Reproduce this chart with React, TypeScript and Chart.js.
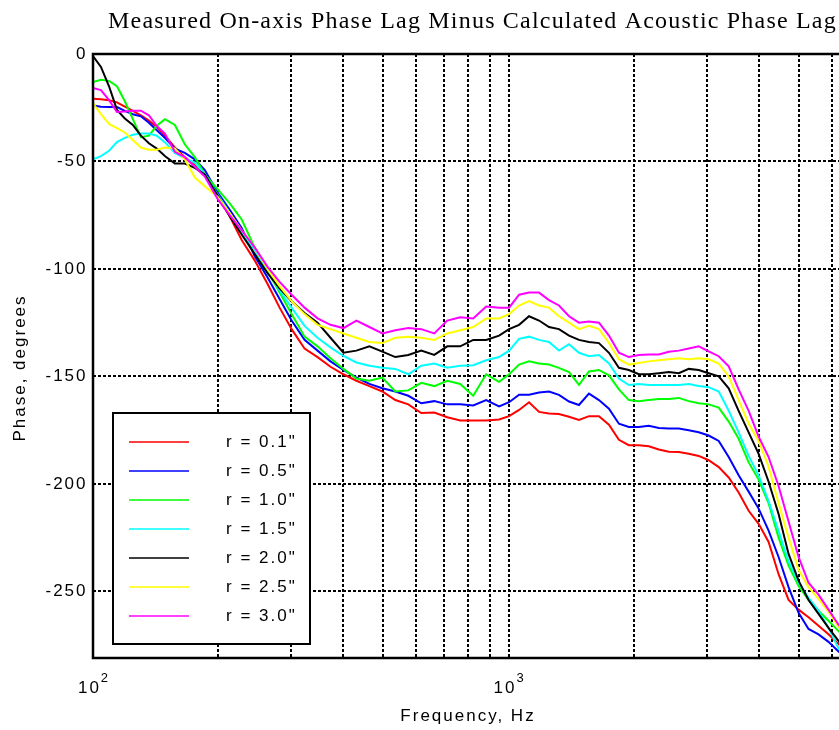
import React, { useEffect, useRef } from "react";
import { Chart, registerables } from "chart.js";

Chart.register(...registerables);

// Frequencies (Hz) shared by all curves
const freqs = [
  100, 104.5, 109.3, 114.2, 119.3, 124.7, 130.4, 136.3, 142.4, 148.9,
  157.4, 166.3, 175.8, 185.8, 199.6, 213.3, 227.9, 244.9, 263.1, 281.2,
  300.6, 322.9, 347.0, 372.8, 400.5, 430.4, 462.5, 496.9, 533.9, 573.8,
  616.5, 662.5, 712.0, 765.0, 822.1, 883.3, 948.8, 1003, 1060, 1120,
  1184, 1251, 1322, 1398, 1477, 1561, 1650, 1744, 1843, 1947,
  2058, 2175, 2299, 2430, 2568, 2714, 2868, 3031, 3204, 3386,
  3578, 3782, 3997, 4224, 4464, 4718, 4987, 5270, 5570, 5887,
  6222, 6497,
];

const r01 = [
  -20.8, -21, -21.5, -22.5, -24.5, -26.5, -28.5, -31, -34, -38,
  -43.5, -48, -51.5, -56, -66.5, -75.5, -86.5, -96, -107, -118,
  -128, -137, -141, -145.5, -149, -152, -154.5, -157, -161, -163,
  -167, -166.8, -169, -170.5, -170.5, -170.5, -170, -168.5, -165.6, -162,
  -166.5, -167.2, -167.5, -168.8, -170.3, -168.5, -168.5, -172.5, -179.5, -182,
  -182, -182.5, -184, -185, -185.2, -186, -187, -189, -192.2, -197,
  -204, -212.5, -218.6, -227, -242, -254, -258.5, -262, -266, -270,
  -274.5, -278,
];

const r05 = [
  -24, -24.5, -24.7, -24.7, -26.5, -28, -29, -32, -35.5, -39,
  -44, -46, -49, -54, -64.5, -72.5, -81, -94, -104, -114,
  -124, -133, -138, -143, -147, -150.5, -153.5, -155.5, -157, -159,
  -162.5, -161.5, -163, -163, -163.5, -161, -164, -162, -158.5, -158.5,
  -157.5, -157, -158.6, -161.7, -163.3, -158, -161, -165, -172, -173.5,
  -173.5, -173, -174, -174.2, -174.2, -175, -176, -177.5, -180, -187.5,
  -196, -203.6, -211.5, -221.7, -234, -248, -260, -267.5, -270, -273.5,
  -278, -281,
];

const r10 = [
  -13, -12, -12.5, -15, -22, -30.3, -38.7, -38, -33.4, -30.3,
  -33, -42, -48, -56, -63, -69.5, -77, -90, -101, -111,
  -121, -131.5, -136, -141.5, -146.5, -151, -152, -150.5, -157, -156.5,
  -153, -154.5, -152, -153.5, -159, -149, -152.5, -149, -144.5, -143,
  -144, -144.5, -146, -148, -153.9, -147.7, -147, -149.5, -156, -161,
  -161.5, -161, -160.5, -160.5, -160, -161.5, -162.5, -163, -164.5, -171,
  -179, -190, -198, -209, -225, -238, -247.5, -254, -259, -263.7,
  -268.5, -272,
];

const r15 = [
  -49, -47.5, -45, -41, -39, -37.6, -37, -37, -38, -41,
  -46, -48.5, -50.5, -56, -65.5, -74, -83, -91, -101, -110,
  -118, -126.5, -132, -136.5, -140.5, -143.5, -145, -146, -146.5, -149,
  -145, -144, -146, -145, -144.8, -142.5, -141, -138, -132.5, -131.5,
  -133, -134, -138, -135, -139, -140.6, -140, -144, -151, -154,
  -153.5, -154, -154, -154, -154, -153.5, -154.5, -155, -157, -166,
  -176, -187, -196, -208, -222, -236, -246, -253, -259, -267,
  -276.5, -281,
];

const r20 = [
  -1, -6, -15, -26, -30, -33, -38, -41.5, -44, -47.5,
  -51, -51, -53, -56, -66, -75.5, -84, -93, -102, -109,
  -115, -120.5, -125, -132, -139, -138, -136, -138.5, -141, -140,
  -138, -140, -136, -136, -133, -133, -131, -128, -126, -122,
  -124, -127, -128, -131, -133, -134, -134.5, -139, -146, -147,
  -149, -149, -148.5, -148, -148.5, -146.5, -147, -148.5, -150, -155.5,
  -166, -176, -186, -199, -214, -232.6, -245, -254, -260.5, -267,
  -273, -278,
];

const r25 = [
  -23, -28, -32.5, -34.5, -36.5, -40, -43.5, -44.5, -44.5, -43.5,
  -44, -49, -57.5, -61.5, -66.5, -74, -82, -90, -100, -108,
  -115, -121, -126, -128, -130, -132, -134, -134.5, -132, -131.5,
  -132, -133, -130, -128.5, -127, -123, -123, -121, -117, -115,
  -117, -118, -122, -125, -128, -126.5, -128, -134.4, -142, -144.5,
  -143.8, -143, -142.5, -142, -141.5, -142, -141.5, -142, -144, -150,
  -161, -172, -180, -192, -209, -225, -240, -248, -253.5, -259.5,
  -266.5, -270,
];

const r30 = [
  -15.8, -16.8, -21.5, -27, -26.8, -26.4, -26.4, -28.5, -33.5, -37,
  -45.5, -48, -52.5, -57, -67.5, -75, -82, -90, -99, -106,
  -112, -118, -123, -126, -127.5, -124, -127, -130, -128.5, -127.5,
  -128, -130, -124, -122.5, -123, -117.5, -118, -118, -112, -111,
  -111, -114.5, -117, -122, -125, -124.5, -125, -131, -139, -141,
  -140, -139.8, -139.8, -138.5, -138, -137, -136, -138.3, -140.6, -145.3,
  -156, -166, -178, -187.5, -201, -217.5, -234, -246, -251.5, -258.5,
  -265.5, -270,
];

const seriesValues = [r01, r05, r10, r15, r20, r25, r30];
const seriesLabels = ['r = 0.1"', 'r = 0.5"', 'r = 1.0"', 'r = 1.5"', 'r = 2.0"', 'r = 2.5"', 'r = 3.0"'];
const seriesColors = ["#ff0000", "#0000ff", "#00ff00", "#00ffff", "#000000", "#ffff00", "#ff00ff"];

const xGridValues = [100, 200, 300, 400, 500, 600, 700, 800, 900, 1000, 2000, 3000, 4000, 5000, 6000];
const xLabelExponents = [2, 3, 4];
const yTicks = [0, -50, -100, -150, -200, -250];

const titleText = "Measured On-axis Phase Lag Minus Calculated Acoustic Phase Lag";
const xTitle = "Frequency, Hz";
const yTitle = "Phase, degrees";

const SANS = '"Liberation Sans", Arial, sans-serif';
const SERIF = '"Liberation Serif", "Times New Roman", serif';

const decorPlugin = {
  id: "decor",
  beforeDraw(chart: any) {
    const { ctx, width, height } = chart;
    ctx.save();
    ctx.fillStyle = "#ffffff";
    ctx.fillRect(0, 0, width, height);
    ctx.restore();
  },
  afterDraw(chart: any) {
    const { ctx, chartArea: ca, scales } = chart;
    ctx.save();
    // frame
    ctx.strokeStyle = "#000";
    ctx.lineWidth = 2.5;
    ctx.setLineDash([]);
    ctx.strokeRect(ca.left, ca.top, ca.right - ca.left, ca.bottom - ca.top);

    // y tick labels
    ctx.fillStyle = "#000";
    ctx.font = `17px ${SANS}`;
    (ctx as any).letterSpacing = "2px";
    ctx.textAlign = "right";
    ctx.textBaseline = "middle";
    yTicks.forEach((v) => {
      ctx.fillText(String(v), ca.left - 5.5, scales.y.getPixelForValue(v));
    });

    // x tick labels: 10^n
    ctx.textAlign = "left";
    ctx.textBaseline = "alphabetic";
    xLabelExponents.forEach((e) => {
      const px = scales.x.getPixelForValue(Math.pow(10, e));
      ctx.font = `17px ${SANS}`;
      (ctx as any).letterSpacing = "2px";
      const wBase = ctx.measureText("10").width;
      ctx.font = `13px ${SANS}`;
      (ctx as any).letterSpacing = "0px";
      const wExp = ctx.measureText(String(e)).width;
      const start = px - (wBase + wExp) / 2;
      ctx.font = `17px ${SANS}`;
      (ctx as any).letterSpacing = "2px";
      ctx.fillText("10", start, 693);
      ctx.font = `13px ${SANS}`;
      (ctx as any).letterSpacing = "0px";
      ctx.fillText(String(e), start + wBase, 682);
    });

    // axis titles
    ctx.font = `17px ${SANS}`;
    (ctx as any).letterSpacing = "2px";
    ctx.textAlign = "center";
    ctx.fillText(xTitle, 468, 720.5);

    ctx.save();
    ctx.translate(24.5, 368);
    ctx.rotate(-Math.PI / 2);
    ctx.textAlign = "center";
    ctx.textBaseline = "alphabetic";
    ctx.fillText(yTitle, 0, 0);
    ctx.restore();

    // title
    ctx.font = `24px ${SERIF}`;
    (ctx as any).letterSpacing = "1.2px";
    ctx.textAlign = "left";
    ctx.textBaseline = "alphabetic";
    ctx.fillText(titleText, 108, 28);

    // legend
    const lx = ca.left + 20;
    const lw = 197;
    const lh = 231;
    const lt = ca.bottom - 14 - lh;
    ctx.fillStyle = "#fff";
    ctx.fillRect(lx, lt, lw, lh);
    ctx.strokeStyle = "#000";
    ctx.lineWidth = 2;
    ctx.strokeRect(lx, lt, lw, lh);
    ctx.font = `17px ${SANS}`;
    (ctx as any).letterSpacing = "2px";
    ctx.textAlign = "left";
    ctx.textBaseline = "middle";
    seriesLabels.forEach((lab, i) => {
      const y = lt + 29 + i * 29;
      ctx.strokeStyle = seriesColors[i];
      ctx.lineWidth = 1.5;
      ctx.beginPath();
      ctx.moveTo(lx + 16, y);
      ctx.lineTo(lx + 76, y);
      ctx.stroke();
      ctx.fillStyle = "#000";
      ctx.fillText(lab, lx + 113, y);
    });
    (ctx as any).letterSpacing = "0px";
    ctx.restore();
  },
};

export default function App() {
  const ref = useRef<HTMLCanvasElement | null>(null);

  useEffect(() => {
    if (!ref.current) return;
    const datasets = seriesValues.map((vals, i) => ({
      label: seriesLabels[i],
      data: vals.map((v, j) => ({ x: freqs[j], y: v })),
      borderColor: seriesColors[i],
      backgroundColor: seriesColors[i],
      borderWidth: 2,
      pointRadius: 0,
      tension: 0,
      fill: false,
      order: seriesValues.length - 1 - i,
    }));

    const chart = new Chart(ref.current, {
      type: "line",
      data: { datasets },
      options: {
        animation: false,
        responsive: false,
        devicePixelRatio: 1,
        parsing: true,
        layout: { padding: { top: 54, right: 25, left: 0, bottom: 0 } },
        plugins: {
          legend: { display: false },
          title: { display: false },
          tooltip: { enabled: false },
        },
        scales: {
          x: {
            type: "logarithmic",
            min: 100,
            max: 6450,
            afterBuildTicks: (s: any) => {
              s.ticks = xGridValues.map((v) => ({ value: v }));
            },
            afterFit: (s: any) => {
              s.height = 72;
            },
            ticks: { display: false },
            grid: { color: "#000", lineWidth: 2, drawTicks: false },
            border: { display: false, dash: [3, 2] },
          },
          y: {
            type: "linear",
            min: -281,
            max: 0,
            afterBuildTicks: (s: any) => {
              s.ticks = yTicks.map((v) => ({ value: v }));
            },
            afterFit: (s: any) => {
              s.width = 93;
            },
            ticks: { display: false },
            grid: { color: "#000", lineWidth: 2, drawTicks: false },
            border: { display: false, dash: [3, 2] },
          },
        },
      } as any,
      plugins: [decorPlugin],
    });
    return () => chart.destroy();
  }, []);

  return (
    <div
      style={{
        position: "fixed",
        left: 0,
        top: 0,
        width: 839,
        height: 730,
        overflow: "hidden",
        background: "#fff",
      }}
    >
      <canvas ref={ref} width={870} height={730} style={{ display: "block", width: 870, height: 730 }} />
    </div>
  );
}
